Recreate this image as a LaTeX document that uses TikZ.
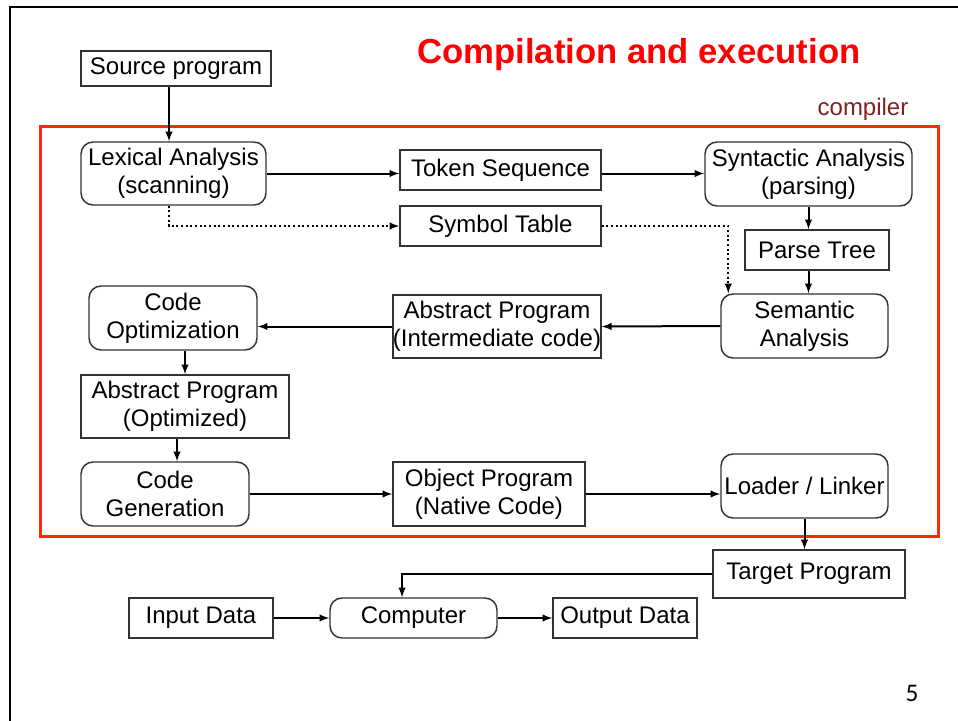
\documentclass[tikz,border=0pt]{standalone}
\usepackage{fontspec}
\setmainfont{Liberation Sans}
\newfontfamily\pagefont{Carlito}
\usetikzlibrary{calc}
\usetikzlibrary{arrows}
\usepackage{xcolor}
\definecolor{framered}{RGB}{255,40,10}
\definecolor{compred}{RGB}{128,32,32}

\begin{document}
\begin{tikzpicture}[x=0.75pt,y=-0.75pt,
  box/.style={draw=black!80, line width=1.1pt, inner sep=0pt, align=center,
    font=\fontsize{18}{21}\selectfont},
  rbox/.style={box, rounded corners=9pt},
  flow/.style={-latex, line width=1.5pt},
  dots/.style={-latex, line width=1.5pt, dotted}]
\useasboundingbox (0,0) rectangle (958,721);
\draw[line width=1.5pt] (10,721) -- (10,7) -- (958,7);
\node[text=red, font=\fontsize{26}{30}\selectfont\bfseries] (title) at (639,55) {Compilation and execution};
\node[text=compred, font=\fontsize{18}{21}\selectfont] (comp) at (863,109) {compiler};
\draw[framered, line width=2.25pt] (40,126) rectangle (938,536);
\node[font=\pagefont\fontsize{19}{22}\selectfont] (page) at (912,693) {5};

\node[box, minimum width=142.5pt, minimum height=26.25pt] (src) at (176,68.5) {Source program};
\node[rbox, minimum width=138.75pt, minimum height=47.25pt] (lex) at (173.5,173.5) {Lexical Analysis\\(scanning)};
\node[box, minimum width=150.75pt, minimum height=30pt] (tok) at (500.5,170) {Token Sequence};
\node[rbox, minimum width=155.25pt, minimum height=48pt] (syn) at (808.5,174) {Syntactic Analysis\\(parsing)};
\node[box, minimum width=150.75pt, minimum height=30pt] (sym) at (500.5,226) {Symbol Table};
\node[box, minimum width=108pt, minimum height=30pt] (tree) at (817,250) {Parse Tree};
\node[rbox, minimum width=125.25pt, minimum height=48pt] (sem) at (804.5,326) {Semantic\\Analysis};
\node[box, minimum width=156pt, minimum height=47.25pt] (absint) at (497,326.5) {Abstract Program\\(Intermediate code)};
\node[rbox, minimum width=126pt, minimum height=48pt] (opt) at (173,318) {Code\\Optimization};
\node[box, minimum width=156pt, minimum height=47.25pt] (absopt) at (185,406.5) {Abstract Program\\(Optimized)};
\node[rbox, minimum width=126pt, minimum height=48pt] (gen) at (165,494) {Code\\Generation};
\node[box, minimum width=144pt, minimum height=48pt] (obj) at (489,494) {Object Program\\(Native Code)};
\node[rbox, minimum width=125.25pt, minimum height=48pt] (load) at (804.5,486) {Loader / Linker};
\node[box, minimum width=144pt, minimum height=36pt] (tgt) at (809,574) {Target Program};
\node[box, minimum width=108pt, minimum height=30pt] (in) at (201,618) {Input Data};
\node[rbox, minimum width=125.25pt, minimum height=30pt] (cpu) at (413.5,618) {Computer};
\node[box, minimum width=108pt, minimum height=30pt] (out) at (625,618) {Output Data};

\coordinate (s1) at ([xshift=-5.25pt]src.south);
\coordinate (l1) at ([xshift=-3.75pt]lex.south);
\coordinate (m1) at ($(sem.north west)+(8,0)$);
\coordinate (g1) at ([xshift=-6pt]absopt.south);
\coordinate (c1) at ([xshift=-8.6pt]cpu.north);

\draw[flow] (s1) -- (s1 |- lex.north);
\draw[flow] (lex.east) -- (lex.east -| tok.west);
\draw[flow] (lex.east -| tok.east) -- (lex.east -| syn.west);
\draw[dots] (l1) |- (sym.west);
\draw[dots] (sym.east) -| (m1);
\draw[flow] (syn.south) -- (syn.south |- tree.north);
\draw[flow] (syn.south |- tree.south) -- (syn.south |- sem.north);
\draw[flow] (sem.west) -- (absint.east);
\draw[flow] (absint.west) -- (absint.west -| opt.east);
\draw[flow] (opt.south -| absopt) -- (absopt.north);
\draw[flow] (g1) -- (g1 |- gen.north);
\draw[flow] (gen) -- (obj);
\draw[flow] (obj.east) -- (obj.east -| load.west);
\draw[flow] (load.south) -- (load.south |- tgt.north);
\draw[flow] (tgt.west) -| (c1);
\draw[flow] (in) -- (cpu);
\draw[flow] (cpu) -- (out);
\end{tikzpicture}
\end{document}
